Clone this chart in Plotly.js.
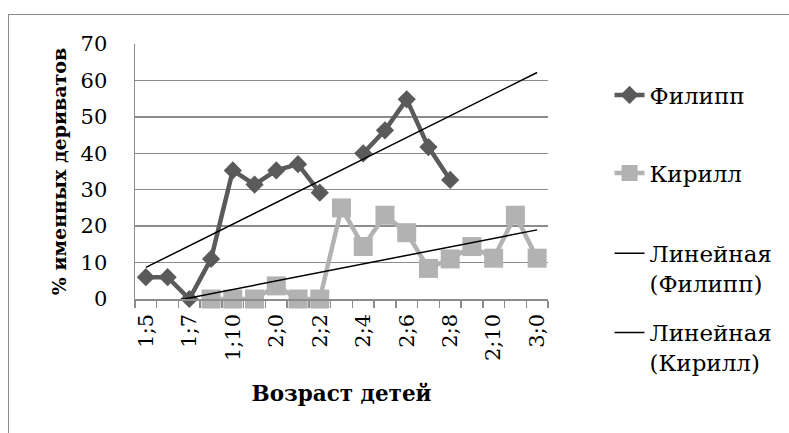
<!DOCTYPE html>
<html>
<head>
<meta charset="utf-8">
<script src="https://cdn.plot.ly/plotly-3.0.1.min.js"></script>
<style>
  html, body { margin: 0; padding: 0; background: #fff; }
  #wrap { position: relative; width: 789px; height: 433px; overflow: hidden; }
  #frame { position: absolute; left: 8px; top: 14px; width: 800px; height: 440px;
           border-left: 1.5px solid #8c8c8c; border-top: 1.5px solid #8c8c8c; pointer-events: none; }
  #chart { position: absolute; left: 0; top: 0; width: 789px; height: 433px; }
</style>
</head>
<body>
<div id="wrap">
  <div id="frame"></div>
  <div id="chart"></div>
</div>
<script>
// ---- data ----
const categories = ["1;5","1;6","1;7","1;8","1;10","1;11","2;0","2;1","2;2","2;3",
                    "2;4","2;5","2;6","2;7","2;8","2;9","2;10","2;11","3;0"];
const tickLabels = ["1;5","","1;7","","1;10","","2;0","","2;2","",
                    "2;4","","2;6","","2;8","","2;10","","3;0"];
const filipp = [6, 6, 0, 11, 35.3, 31.4, 35.3, 37, 29.2, null,
                40, 46.3, 54.8, 41.7, 32.7, null, null, null, null];
const kirill = [null, null, null, 0, 0, 0, 3.6, 0, 0, 25,
                14.4, 23, 18.2, 8.4, 11, 14.4, 11.2, 23, 11.2];
const seriesNames = ["Филипп", "Кирилл", "Линейная<br>(Филипп)", "Линейная<br>(Кирилл)"];
const yTicks = [0, 10, 20, 30, 40, 50, 60, 70];

// ---- linear trend (Excel-style: x = category index) ----
function trend(vals) {
  const xs = [], ys = [];
  vals.forEach((v, i) => { if (v !== null) { xs.push(i); ys.push(v); } });
  const n = xs.length;
  const mx = xs.reduce((a, b) => a + b, 0) / n;
  const my = ys.reduce((a, b) => a + b, 0) / n;
  let sxy = 0, sxx = 0;
  for (let k = 0; k < n; k++) { sxy += (xs[k] - mx) * (ys[k] - my); sxx += (xs[k] - mx) ** 2; }
  const b = sxy / sxx, a = my - b * mx;
  return categories.map((c, i) => a + b * i);
}

const FONT = "DejaVu Serif";
const cF = "#5a5a5a", cK = "#b2b2b2";

const traces = [
  { x: categories, y: filipp, name: seriesNames[0], type: "scatter", mode: "lines+markers",
    line: { color: cF, width: 4.5 }, marker: { symbol: "diamond", size: 14, color: cF },
    cliponaxis: false, legend: "legend" },
  { x: categories, y: kirill, name: seriesNames[1], type: "scatter", mode: "lines+markers",
    line: { color: cK, width: 4.5 }, marker: { symbol: "square", size: 19, color: cK },
    cliponaxis: false, legend: "legend2" },
  { x: categories, y: trend(filipp), name: seriesNames[2], type: "scatter", mode: "lines",
    line: { color: "#000", width: 1.5 }, legend: "legend3" },
  { x: categories, y: trend(kirill), name: seriesNames[3], type: "scatter", mode: "lines",
    line: { color: "#000", width: 1.5 }, legend: "legend4" }
];

function leg(y) {
  return { x: 1.149, xanchor: "left", y: y, yanchor: "middle", valign: "top",
           font: { family: FONT, size: 23, color: "#000" }, bgcolor: "rgba(0,0,0,0)" };
}

const layout = {
  width: 789, height: 433,
  margin: { l: 135, r: 235, t: 44, b: 134 },
  paper_bgcolor: "rgba(0,0,0,0)", plot_bgcolor: "rgba(0,0,0,0)",
  font: { family: FONT, size: 21, color: "#000" },
  showlegend: true,
  legend: leg(0.80),
  legend2: leg(0.494),
  legend3: leg(0.12),
  legend4: leg(-0.19),
  xaxis: {
    type: "category", range: [-0.5, categories.length - 0.5],
    tickmode: "array", tickvals: categories, ticktext: tickLabels,
    tickson: "boundaries", ticks: "outside", ticklen: 7, tickcolor: "#8c8c8c", tickwidth: 1.5,
    ticklabelstandoff: 5,
    tickangle: -90, tickfont: { family: FONT, size: 21 },
    showline: true, linecolor: "#8c8c8c", linewidth: 1.5, showgrid: false, zeroline: false,
    title: { text: "<b>Возраст детей</b>", font: { family: FONT, size: 21.5 }, standoff: 26 },
    automargin: false
  },
  yaxis: {
    range: [0, 70], tickmode: "array", tickvals: yTicks, ticks: "",
    ticklabelstandoff: 22,
    showline: true, linecolor: "#8c8c8c", linewidth: 1.5,
    showgrid: true, gridcolor: "#8c8c8c", gridwidth: 1.3, zeroline: false,
    tickfont: { family: FONT, size: 21 },
    title: { text: "<b>% именных дериватов</b>", font: { family: FONT, size: 19 }, standoff: 9 },
    automargin: false
  }
};

Plotly.newPlot("chart", traces, layout, { displayModeBar: false, staticPlot: true });
</script>
</body>
</html>
